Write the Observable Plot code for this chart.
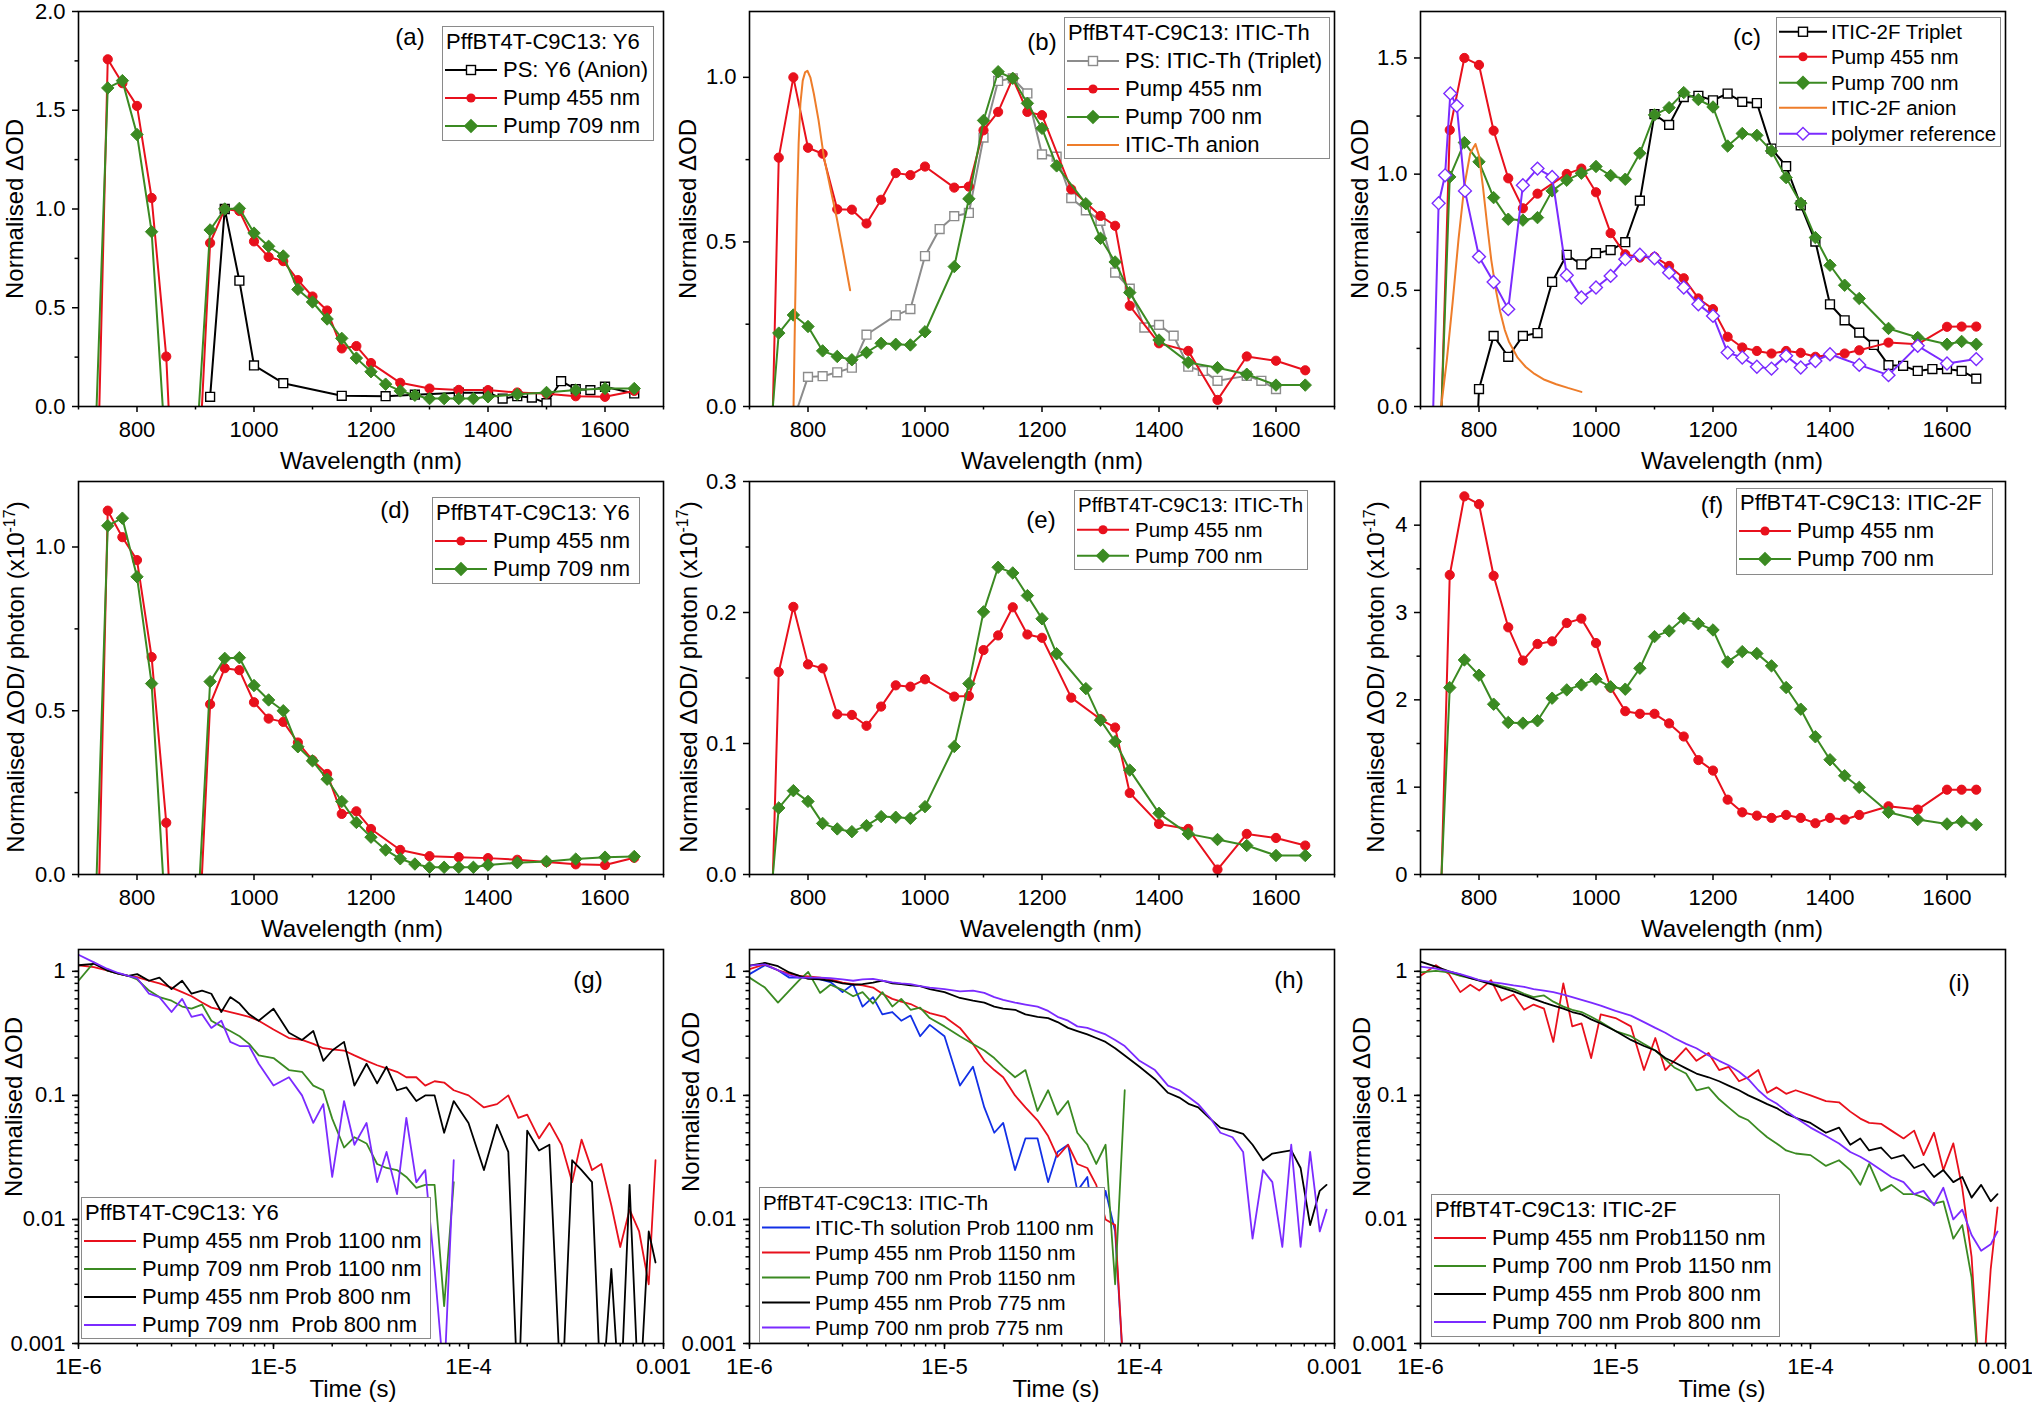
<!DOCTYPE html>
<html><head><meta charset="utf-8">
<script src="https://cdn.jsdelivr.net/npm/d3@7"></script>
<script src="https://cdn.jsdelivr.net/npm/@observablehq/plot@0.6"></script>
<style>
body{margin:0;background:#fff;}
#fig{position:relative;width:2032px;height:1408px;font-family:"Liberation Sans",Arial,Helvetica,sans-serif;color:#000;overflow:hidden;background:#fff;}
.lbl{position:absolute;white-space:nowrap;font-size:24px;transform:translate(-50%,-50%);line-height:1;}
.ylbl{position:absolute;white-space:nowrap;font-size:24px;transform:translate(-50%,-50%) rotate(-90deg);line-height:1;}
.leg{position:absolute;background:#fff;border:1.5px solid #8a8a8a;box-sizing:border-box;}
.leg .row{display:flex;align-items:center;white-space:pre;}
</style></head><body><div id="fig"></div>
<script>
const _ = null;
// ---------- spectra: wavelength grid (nm) ----------
const WL = [725,750,775,800,825,850,875,900, 925,950,975,1000,1025,1050,1075,1100, 1125,1150,1175,1200,1225,1250,1275,1300, 1325,1350,1375,1400,1425,1450,1475,1500, 1525,1550,1575,1600,1625,1650];
const WL_MAJOR = [800,1000,1200,1400,1600];
const WL_MINOR = [700,900,1100,1300,1500,1700];

// (a)
const A_PS  = [_,_,_,_,_,_,_,_, 0.049,1.0,0.637,0.208,_,0.118,_,_, _,0.054,_,_,0.052,_,0.06,_, _,0.07,_,0.07,0.04,0.052,0.045,0.017, 0.128,0.088,0.083,0.1,_,0.066];
const A_455 = [-1.3,1.758,1.637,1.522,1.056,0.253,-1.33,-0.65, 0.828,1.0,0.99,0.836,0.757,0.736,0.64,0.557, 0.486,0.294,0.306,0.22,_,0.12,_,0.091, _,0.084,_,0.083,_,0.071,_,0.065, _,0.052,_,0.049,_,0.079];
const A_709 = [-0.5,1.613,1.65,1.377,0.885,-0.28,-0.5,-0.28, 0.894,1.0,1.003,0.878,0.811,0.762,0.593,0.529, 0.443,0.345,0.245,0.176,0.113,0.079,0.057,0.04, 0.04,0.04,0.04,0.049,_,0.062,_,0.071, _,0.083,_,0.091,_,0.091];
// (b)
const B_PS  = [_,_,-0.042,0.09,0.092,0.104,0.118,0.218, _,0.277,0.296,0.457,0.539,0.578,0.588,0.817, 0.989,0.997,0.951,0.766,0.759,0.633,0.596,0.564, 0.407,0.358,0.24,0.248,0.215,0.121,0.108,0.078, _,0.093,0.078,0.053,_,_];
const B_455 = [-1.13,0.756,1.0,0.786,0.768,0.599,0.598,0.556, 0.628,0.709,0.703,0.729,_,0.665,0.668,0.839, 0.895,0.997,0.895,0.885,_,0.66,_,0.579, 0.549,0.306,_,0.192,_,0.169,_,0.02, _,0.152,_,0.139,_,0.11];
const B_700 = [-0.33,0.223,0.278,0.243,0.169,0.152,0.142,0.164, 0.192,0.189,0.187,0.227,_,0.425,0.631,0.869, 1.017,0.997,0.921,0.845,0.731,_,0.616,0.511, 0.439,0.346,_,0.202,_,0.134,_,0.118, _,0.098,_,0.065,_,0.065];
const B_ANION_WL = [775,778,781,784,787,791,795,799,804,810,818,827,838,849,860,872];
const B_ANION    = [-0.03,0.3,0.6,0.8,0.92,0.99,1.015,1.02,1.0,0.95,0.87,0.76,0.665,0.574,0.47,0.353];
// (c)
const C_TRIP = [_,_,-1.37,0.075,0.304,0.214,0.304,0.316, 0.536,0.653,0.612,0.66,0.673,0.707,0.886,1.258, 1.212,1.332,1.337,1.318,1.347,1.311,1.306,1.11, 1.034,0.866,0.71,0.44,0.371,0.318,0.265,0.178, 0.175,0.153,0.161,0.161,0.153,0.12];
const C_455  = [-0.935,1.19,1.5,1.47,1.187,0.982,0.853,0.916, _,1.001,1.024,0.922,0.746,0.655,0.641,0.644, 0.605,0.552,0.465,0.419,0.30,0.254,0.239,0.228, 0.239,0.231,0.214,0.222,0.228,0.242,_,0.275, _,0.268,_,0.343,0.344,0.344];
const C_700  = [-0.78,0.988,1.136,1.053,0.899,0.806,0.802,0.813, 0.928,0.974,1.004,1.033,0.994,0.978,1.09,1.255, 1.286,1.351,1.321,1.289,1.121,1.175,1.167,1.10, 0.985,0.875,0.727,0.608,0.522,0.465,_,0.336, _,0.297,_,0.268,0.28,0.268];
const C_ANION_WL = [733,745,755,765,775,785,794,800,807,814,821,829,836,844,851,866,880,895,912,932,952,975];
const C_ANION    = [-0.05,0.2,0.45,0.72,0.95,1.09,1.13,1.08,0.94,0.78,0.63,0.5,0.41,0.33,0.28,0.21,0.17,0.14,0.115,0.096,0.08,0.063];
const C_POLY_WL = [715,731,742,751,762,776,800,825,850,875,900,925,950,975,1000,1025,1050,1075,1100,1125,1150,1175,1200,1225,1250,1275,1300,1325,1350,1375,1400,1450,1500,1550,1600,1650];
const C_POLY    = [-0.65,0.875,0.995,1.347,1.294,0.928,0.645,0.536,0.419,0.952,1.024,0.988,0.565,0.469,0.512,0.562,0.634,0.653,0.638,0.576,0.512,0.44,0.39,0.232,0.211,0.171,0.163,0.218,0.168,0.196,0.225,0.179,0.135,0.261,0.185,0.204];
// (d)
const D_455 = [-0.81,1.111,1.03,0.96,0.664,0.158,-0.83,-0.41, 0.52,0.63,0.624,0.526,0.476,0.466,0.403,0.349, 0.307,0.185,0.193,0.139,_,0.075,_,0.056, _,0.053,_,0.05,_,0.045,_,0.038, _,0.031,_,0.029,_,0.051];
const D_709 = [-0.34,1.065,1.088,0.909,0.583,-0.17,-0.5,-0.25, 0.589,0.66,0.662,0.577,0.533,0.5,0.39,0.347, 0.291,0.223,0.159,0.114,0.075,0.048,0.032,0.022, 0.022,0.022,0.022,0.029,_,0.036,_,0.04, _,0.047,_,0.053,_,0.055];
// (e)
const E_455 = [-0.232,0.1546,0.2043,0.1604,0.1574,0.1223,0.1218,0.1135, 0.1282,0.1444,0.1434,0.149,_,0.1358,0.1363,0.1713, 0.1825,0.204,0.1832,0.1807,_,0.135,_,0.1185, 0.1122,0.0622,_,0.0386,_,0.0348,_,0.0038, _,0.031,_,0.0279,_,0.0221];
const E_700 = [-0.076,0.0508,0.064,0.0558,0.039,0.0348,0.0327,0.0373, 0.0442,0.0437,0.0429,0.0518,_,0.0977,0.1457,0.2005, 0.2345,0.2302,0.2129,0.1952,0.1685,_,0.1419,0.1178, 0.1015,0.0797,_,0.0467,_,0.031,_,0.0267, _,0.0221,_,0.0145,_,0.0145];
// (f)
const F_455 = [-2.7,3.43,4.33,4.24,3.42,2.83,2.45,2.64, 2.67,2.88,2.93,2.65,2.14,1.87,1.84,1.84, 1.73,1.58,1.31,1.19,0.857,0.712,0.674,0.648, 0.682,0.648,0.587,0.648,0.629,0.682,_,0.781, _,0.743,_,0.971,0.971,0.971];
const F_700 = [-1.68,2.14,2.457,2.282,1.95,1.741,1.733,1.76, 2.019,2.114,2.171,2.236,2.149,2.122,2.362,2.724, 2.789,2.933,2.872,2.8,2.434,2.552,2.53,2.389, 2.141,1.893,1.577,1.314,1.131,0.998,_,0.712, _,0.629,_,0.579,0.606,0.571];

// ---------- kinetics: time grid (s) ----------
const T = [
 1e-6,1.2e-6,1.4e-6,1.6e-6,1.8e-6,2e-6,2.3e-6,2.6e-6,3e-6,3.4e-6,3.8e-6,4.3e-6,4.8e-6,5.4e-6,6e-6,6.7e-6,7.5e-6,8.4e-6,
 1e-5,1.2e-5,1.4e-5,1.6e-5,1.8e-5,2e-5,2.3e-5,2.6e-5,3e-5,3.4e-5,3.8e-5,4.3e-5,4.8e-5,5.4e-5,6e-5,6.7e-5,7.5e-5,8.4e-5,
 1e-4,1.2e-4,1.4e-4,1.6e-4,1.8e-4,2e-4,2.3e-4,2.6e-4,3e-4,3.4e-4,3.8e-4,4.3e-4,4.8e-4,5.4e-4,6e-4,6.7e-4,7.5e-4,8.4e-4,
 9.1e-4];
const T_MAJOR = [1e-6,1e-5,1e-4,1e-3];
const T_LABELS = ["1E-6","1E-5","1E-4","0.001"];
const V_MAJOR = [0.001,0.01,0.1,1];
const V_LABELS = ["0.001","0.01","0.1","1"];
const NONE19 = [_,_,_,_,_,_,_,_,_,_,_,_,_,_,_,_,_,_,_];
// (g)
const G_455_1100 = [1.12,1.08,1.02,0.96,0.92,0.90,0.84,0.80,0.74,0.68,0.63,0.56,0.51,0.49,0.47,0.45,0.43,0.40,
 0.34,0.29,0.28,0.26,0.24,0.235,0.23,0.21,0.19,0.175,0.165,0.155,0.14,0.14,0.12,0.13,0.127,0.11,
 0.10,0.08,0.085,0.10,0.066,0.07,0.045,0.06,0.04,0.02,0.044,0.025,0.028,0.013,0.006,0.012,0.008,0.003, 0.03];
const G_709_1100 = [0.84,1.18,1.02,0.96,0.92,0.86,0.70,0.62,0.58,0.52,0.50,0.54,0.40,0.36,0.33,0.30,0.26,0.21,
 0.20,0.16,0.155,0.12,0.11,0.065,0.038,0.046,0.041,0.028,0.026,0.025,0.022,0.018,0.019,0.019,0.002,0.02, ...NONE19];
const G_455_800 = [1.12,1.15,1.02,0.96,0.92,0.95,0.84,0.89,0.72,0.84,0.66,0.70,0.66,0.47,0.62,0.55,0.45,0.40,
 0.50,0.32,0.28,0.33,0.19,0.23,0.27,0.12,0.18,0.125,0.17,0.11,0.116,0.09,0.10,0.10,0.05,0.09,
 0.06,0.025,0.058,0.035,0.0003,0.052,0.036,0.04,0.0003,0.03,0.025,0.02,0.0003,0.004,0.0003,0.019,0.0003,0.008, 0.0045];
const G_709_800 = [1.36,1.18,1.05,0.97,0.92,0.88,0.66,0.62,0.47,0.60,0.43,0.45,0.35,0.40,0.27,0.25,0.25,0.18,
 0.12,0.14,0.10,0.06,0.085,0.022,0.09,0.04,0.06,0.02,0.035,0.016,0.066,0.02,0.025,0.004,0.0005,0.03, ...NONE19];
// (h)
const H_SOL_1100 = [0.95,1.12,1.02,0.89,0.89,0.89,0.86,0.82,0.68,0.79,0.52,0.62,0.45,0.47,0.40,0.44,0.30,0.37,
 0.30,0.12,0.17,0.08,0.05,0.06,0.025,0.045,0.045,0.02,0.035,0.04,0.017,0.022,0.006,0.017,0.008,0.0004, ...NONE19];
const H_455_1150 = [1.04,1.14,1.02,0.96,0.92,0.91,0.89,0.86,0.81,0.79,0.77,0.74,0.66,0.60,0.57,0.545,0.50,0.46,
 0.43,0.35,0.26,0.19,0.16,0.14,0.10,0.08,0.063,0.047,0.032,0.04,0.028,0.026,0.019,0.01,0.009,0.0004, ...NONE19];
const H_700_1150 = [0.89,0.74,0.56,0.70,0.85,0.99,0.67,0.78,0.71,0.63,0.68,0.55,0.68,0.52,0.60,0.49,0.51,0.42,
 0.36,0.30,0.26,0.23,0.20,0.17,0.14,0.16,0.075,0.11,0.07,0.09,0.05,0.04,0.028,0.04,0.003,0.11, ...NONE19];
const H_455_775 = [1.11,1.17,1.10,0.98,0.92,0.87,0.86,0.84,0.80,0.78,0.79,0.81,0.84,0.80,0.79,0.77,0.76,0.72,
 0.68,0.61,0.58,0.56,0.52,0.50,0.49,0.45,0.43,0.42,0.39,0.35,0.33,0.31,0.29,0.27,0.24,0.21,
 0.17,0.135,0.105,0.096,0.085,0.08,0.065,0.055,0.052,0.049,0.04,0.03,0.034,0.035,0.036,0.026,0.009,0.017, 0.019];
const H_700_775 = [1.11,1.14,1.02,0.93,0.89,0.89,0.89,0.88,0.86,0.84,0.86,0.87,0.84,0.815,0.80,0.79,0.76,0.74,
 0.72,0.69,0.70,0.67,0.62,0.59,0.56,0.54,0.52,0.48,0.43,0.40,0.36,0.35,0.33,0.31,0.28,0.25,
 0.19,0.16,0.12,0.11,0.096,0.085,0.066,0.05,0.046,0.035,0.007,0.025,0.02,0.006,0.04,0.006,0.035,0.008, 0.012];
// (i)
const I_455_1150 = [0.92,1.12,0.95,0.68,0.78,0.70,0.85,0.58,0.65,0.49,0.54,0.50,0.27,0.80,0.36,0.38,0.20,0.45,
 0.42,0.36,0.16,0.29,0.16,0.19,0.24,0.19,0.22,0.16,0.17,0.13,0.14,0.16,0.105,0.116,0.103,0.11,
 0.10,0.09,0.088,0.074,0.065,0.06,0.059,0.052,0.045,0.052,0.033,0.05,0.025,0.041,0.018,0.005,0.0003,0.004, 0.0125];
const I_700_1150 = [0.98,1.01,0.98,0.92,0.88,0.85,0.80,0.76,0.72,0.66,0.62,0.64,0.57,0.52,0.49,0.47,0.43,0.39,
 0.33,0.30,0.26,0.23,0.195,0.168,0.15,0.11,0.116,0.093,0.08,0.068,0.063,0.053,0.046,0.041,0.036,0.034,
 0.033,0.027,0.03,0.025,0.019,0.028,0.017,0.019,0.016,0.016,0.015,0.0134,0.014,0.007,0.009,0.0034,0.0003,_, _];
const I_455_800 = [1.2,1.09,1.0,0.94,0.88,0.84,0.79,0.74,0.69,0.64,0.60,0.56,0.53,0.50,0.47,0.45,0.41,0.38,
 0.33,0.28,0.25,0.23,0.20,0.185,0.165,0.15,0.14,0.13,0.12,0.11,0.10,0.092,0.085,0.079,0.071,0.066,
 0.06,0.05,0.055,0.04,0.045,0.036,0.038,0.031,0.033,0.026,0.028,0.022,0.025,0.02,0.022,0.015,0.019,0.014, 0.016];
const I_700_800 = [1.09,1.05,1.0,0.95,0.90,0.85,0.82,0.80,0.77,0.75,0.72,0.70,0.68,0.65,0.62,0.59,0.56,0.53,
 0.48,0.44,0.39,0.35,0.32,0.29,0.26,0.24,0.21,0.19,0.175,0.155,0.135,0.11,0.095,0.086,0.075,0.066,
 0.055,0.047,0.041,0.035,0.032,0.029,0.025,0.022,0.02,0.016,0.017,0.013,0.018,0.010,0.012,0.0075,0.0056,0.0063, 0.008];

// ---------- styling ----------
const COL = {red:"#e8101c", green:"#3b8a22", black:"#000000", gray:"#8c8c8c", orange:"#ee7d2a", purple:"#7b2bff", blue:"#1230e6"};
const FONT = '"Liberation Sans", Arial, Helvetica, sans-serif';
const ML = 78, MR = 40, MT = 11, MB = 64, FW = 585;
const fig = document.getElementById("fig");
function place(el, left, top){ el.style.position="absolute"; el.style.left=left+"px"; el.style.top=top+"px"; fig.appendChild(el); }

function symOpts(s){
  switch(s.sym){
    case "circle":   return {symbol:"circle", r:4.6, fill:s.color, stroke:s.color, strokeWidth:1};
    case "diamond":  return {symbol:"diamond2", r:5.6, fill:s.color, stroke:s.color, strokeWidth:1};
    case "square":   return {symbol:"square", r:5.0, fill:"white", stroke:s.color, strokeWidth:1.4};
    case "odiamond": return {symbol:"diamond2", r:5.8, fill:"white", stroke:s.color, strokeWidth:1.4};
  }
}
function rowsOf(xs, ys){ return xs.map((x,i)=>({x, y: ys[i]})).filter(d => d.y != null); }

function basePlot(opts, marks){
  return Plot.plot({
    width: ML+FW+MR, height: MT+opts.frameH+MB,
    marginLeft: ML, marginRight: MR, marginTop: MT, marginBottom: MB,
    style: {fontFamily: FONT, fontSize: "22px", color: "#000", background: "transparent", overflow: "visible"},
    x: opts.x, y: opts.y, marks
  });
}

function specPanel(p){
  const marks = [
    Plot.axisX({ticks: WL_MAJOR, tickSize: 6, tickPadding: 9, tickFormat: d => String(d), label: null, fontSize: 22, strokeWidth: 1.5}),
    Plot.axisX({ticks: WL_MINOR, tickSize: 3.5, tickFormat: () => "", label: null, strokeWidth: 1.5}),
    Plot.axisY({ticks: p.yTicks, tickSize: 6, tickPadding: 7, tickFormat: d => p.yLabels[p.yTicks.indexOf(d)], label: null, fontSize: 22, strokeWidth: 1.5}),
    Plot.axisY({ticks: p.yMinor, tickSize: 3.5, tickFormat: () => "", label: null, strokeWidth: 1.5})
  ];
  for (const s of p.series){
    const rows = rowsOf(s.x, s.y);
    marks.push(Plot.line(rows, {x: "x", y: "y", stroke: s.color, strokeWidth: 2, clip: true}));
    if (s.sym) marks.push(Plot.dot(rows, {x: "x", y: "y", ...symOpts(s), clip: true}));
  }
  marks.push(Plot.frame({stroke: "#000", strokeWidth: 1.6}));
  const svg = basePlot({frameH: p.frameH, x: {domain: [700,1700]}, y: {domain: p.yDomain}}, marks);
  place(svg, p.left-ML, p.top-MT);
}

function timePanel(p){
  const marks = [
    Plot.axisX({ticks: T_MAJOR, tickSize: 6, tickPadding: 9, tickFormat: d => T_LABELS[T_MAJOR.indexOf(d)], label: null, fontSize: 22, strokeWidth: 1.5}),
    Plot.axisX({ticks: 40, tickSize: 3.5, tickFormat: () => "", label: null, strokeWidth: 1.5}),
    Plot.axisY({ticks: V_MAJOR, tickSize: 6, tickPadding: 7, tickFormat: d => V_LABELS[V_MAJOR.indexOf(d)], label: null, fontSize: 22, strokeWidth: 1.5}),
    Plot.axisY({ticks: 40, tickSize: 3.5, tickFormat: () => "", label: null, strokeWidth: 1.5})
  ];
  for (const s of p.series){
    marks.push(Plot.line(rowsOf(T, s.y), {x: "x", y: "y", stroke: s.color, strokeWidth: 1.8, clip: true}));
  }
  marks.push(Plot.frame({stroke: "#000", strokeWidth: 1.6}));
  const svg = basePlot({frameH: p.frameH, x: {type: "log", domain: [1e-6,1e-3]}, y: {type: "log", domain: [0.001,1.5]}}, marks);
  place(svg, p.left-ML, p.top-MT);
}

// ---------- text helpers ----------
function text(cls, html, x, y, fs){
  const d = document.createElement("div"); d.className = cls; d.innerHTML = html;
  d.style.left = x+"px"; d.style.top = y+"px"; if (fs) d.style.fontSize = fs+"px";
  fig.appendChild(d);
}
function swatch(it, h, w){
  const ns = "http://www.w3.org/2000/svg";
  const svg = document.createElementNS(ns, "svg");
  svg.setAttribute("width", w); svg.setAttribute("height", h);
  svg.style.flex = "none"; svg.style.marginLeft = "2px";
  const y = h/2, c = w/2;
  const ln = document.createElementNS(ns, "line");
  ln.setAttribute("x1", 0); ln.setAttribute("x2", w); ln.setAttribute("y1", y); ln.setAttribute("y2", y);
  ln.setAttribute("stroke", it.color); ln.setAttribute("stroke-width", 2.2);
  svg.appendChild(ln);
  let m = null;
  if (it.sym === "circle"){ m = document.createElementNS(ns, "circle"); m.setAttribute("cx", c); m.setAttribute("cy", y); m.setAttribute("r", 4.6); m.setAttribute("fill", it.color); }
  else if (it.sym === "diamond" || it.sym === "odiamond"){ m = document.createElementNS(ns, "polygon"); m.setAttribute("points", `${c},${y-6.3} ${c+6.3},${y} ${c},${y+6.3} ${c-6.3},${y}`); m.setAttribute("fill", it.sym === "diamond" ? it.color : "white"); m.setAttribute("stroke", it.color); m.setAttribute("stroke-width", 1.4); }
  else if (it.sym === "square"){ m = document.createElementNS(ns, "rect"); m.setAttribute("x", c-4.5); m.setAttribute("y", y-4.5); m.setAttribute("width", 9); m.setAttribute("height", 9); m.setAttribute("fill", "white"); m.setAttribute("stroke", it.color); m.setAttribute("stroke-width", 1.4); }
  if (m) svg.appendChild(m);
  return svg;
}
function legend(o){
  const box = document.createElement("div"); box.className = "leg";
  Object.assign(box.style, {left: o.left+"px", top: o.top+"px", width: o.w+"px", height: o.h+"px", fontSize: o.fs+"px", paddingTop: o.pt+"px"});
  if (o.title){ const r = document.createElement("div"); r.className = "row"; r.style.height = o.rowH+"px"; r.style.paddingLeft = "3px"; r.textContent = o.title; box.appendChild(r); }
  for (const it of o.items){
    const r = document.createElement("div"); r.className = "row"; r.style.height = o.rowH+"px";
    r.appendChild(swatch(it, o.rowH, o.sw || 52));
    const t = document.createElement("span"); t.textContent = it.label; t.style.marginLeft = (o.gap || 6)+"px"; r.appendChild(t);
    box.appendChild(r);
  }
  fig.appendChild(box);
}

// ---------- panels ----------
const COLS = [78, 749, 1420];
const ROW1 = {top: 11, frameH: 395}, ROW2 = {top: 481, frameH: 393}, ROW3 = {top: 949, frameH: 394};

specPanel({left: COLS[0], ...ROW1, yDomain: [0,2], yTicks: [0,0.5,1,1.5,2], yLabels: ["0.0","0.5","1.0","1.5","2.0"], yMinor: [0.25,0.75,1.25,1.75],
  series: [{x: WL, y: A_PS, color: COL.black, sym: "square"}, {x: WL, y: A_455, color: COL.red, sym: "circle"}, {x: WL, y: A_709, color: COL.green, sym: "diamond"}]});
specPanel({left: COLS[1], ...ROW1, yDomain: [0,1.2], yTicks: [0,0.5,1], yLabels: ["0.0","0.5","1.0"], yMinor: [0.25,0.75],
  series: [{x: WL, y: B_PS, color: COL.gray, sym: "square"}, {x: WL, y: B_455, color: COL.red, sym: "circle"}, {x: WL, y: B_700, color: COL.green, sym: "diamond"}, {x: B_ANION_WL, y: B_ANION, color: COL.orange}]});
specPanel({left: COLS[2], ...ROW1, yDomain: [0,1.7], yTicks: [0,0.5,1,1.5], yLabels: ["0.0","0.5","1.0","1.5"], yMinor: [0.25,0.75,1.25],
  series: [{x: WL, y: C_TRIP, color: COL.black, sym: "square"}, {x: WL, y: C_455, color: COL.red, sym: "circle"}, {x: WL, y: C_700, color: COL.green, sym: "diamond"}, {x: C_ANION_WL, y: C_ANION, color: COL.orange}, {x: C_POLY_WL, y: C_POLY, color: COL.purple, sym: "odiamond"}]});

specPanel({left: COLS[0], ...ROW2, yDomain: [0,1.2], yTicks: [0,0.5,1], yLabels: ["0.0","0.5","1.0"], yMinor: [0.25,0.75],
  series: [{x: WL, y: D_455, color: COL.red, sym: "circle"}, {x: WL, y: D_709, color: COL.green, sym: "diamond"}]});
specPanel({left: COLS[1], ...ROW2, yDomain: [0,0.3], yTicks: [0,0.1,0.2,0.3], yLabels: ["0.0","0.1","0.2","0.3"], yMinor: [0.05,0.15,0.25],
  series: [{x: WL, y: E_455, color: COL.red, sym: "circle"}, {x: WL, y: E_700, color: COL.green, sym: "diamond"}]});
specPanel({left: COLS[2], ...ROW2, yDomain: [0,4.5], yTicks: [0,1,2,3,4], yLabels: ["0","1","2","3","4"], yMinor: [0.5,1.5,2.5,3.5],
  series: [{x: WL, y: F_455, color: COL.red, sym: "circle"}, {x: WL, y: F_700, color: COL.green, sym: "diamond"}]});

timePanel({left: COLS[0], ...ROW3, series: [{y: G_455_1100, color: COL.red}, {y: G_709_1100, color: COL.green}, {y: G_455_800, color: COL.black}, {y: G_709_800, color: COL.purple}]});
timePanel({left: COLS[1], ...ROW3, series: [{y: H_SOL_1100, color: COL.blue}, {y: H_455_1150, color: COL.red}, {y: H_700_1150, color: COL.green}, {y: H_455_775, color: COL.black}, {y: H_700_775, color: COL.purple}]});
timePanel({left: COLS[2], ...ROW3, series: [{y: I_455_1150, color: COL.red}, {y: I_700_1150, color: COL.green}, {y: I_455_800, color: COL.black}, {y: I_700_800, color: COL.purple}]});

// ---------- axis titles ----------
const YL1 = "Normalised &Delta;OD";
const YL2 = "Normalised &Delta;OD/ photon (x10<sup style=\"font-size:16px;vertical-align:super;line-height:0\">-17</sup>)";
text("ylbl", YL1, 15, 208.5); text("ylbl", YL1, 688, 208.5); text("ylbl", YL1, 1360, 208.5);
text("ylbl", YL2, 16, 677); text("ylbl", YL2, 689, 677); text("ylbl", YL2, 1376, 677);
text("ylbl", YL1, 14, 1107); text("ylbl", YL1, 691, 1102); text("ylbl", YL1, 1362, 1107);
text("lbl", "Wavelength (nm)", 371, 461); text("lbl", "Wavelength (nm)", 1052, 461); text("lbl", "Wavelength (nm)", 1732, 461);
text("lbl", "Wavelength (nm)", 352, 929); text("lbl", "Wavelength (nm)", 1051, 929); text("lbl", "Wavelength (nm)", 1732, 929);
text("lbl", "Time (s)", 353, 1389); text("lbl", "Time (s)", 1056, 1389); text("lbl", "Time (s)", 1722, 1389);

// panel letters
[["(a)",410,37],["(b)",1042,42],["(c)",1747,37],["(d)",395,510],["(e)",1041,520],["(f)",1712,505],["(g)",588,980],["(h)",1289,980],["(i)",1959,983]]
  .forEach(([t,x,y]) => text("lbl", t, x, y));

// ---------- legends ----------
const L455 = {label: "Pump 455 nm", color: COL.red, sym: "circle"};
legend({left: 442, top: 26, w: 212, h: 115, rowH: 28, fs: 22, pt: 0.5, title: "PffBT4T-C9C13: Y6",
  items: [{label: "PS: Y6 (Anion)", color: COL.black, sym: "square"}, L455, {label: "Pump 709 nm", color: COL.green, sym: "diamond"}]});
legend({left: 1064, top: 17, w: 266, h: 142, rowH: 28, fs: 22, pt: 0.5, title: "PffBT4T-C9C13: ITIC-Th",
  items: [{label: "PS: ITIC-Th (Triplet)", color: COL.gray, sym: "square"}, L455, {label: "Pump 700 nm", color: COL.green, sym: "diamond"}, {label: "ITIC-Th anion", color: COL.orange}]});
legend({left: 1776, top: 17, w: 225, h: 130, rowH: 25.5, fs: 20.5, pt: 0.75, sw: 48, gap: 4, title: null,
  items: [{label: "ITIC-2F Triplet", color: COL.black, sym: "square"}, L455, {label: "Pump 700 nm", color: COL.green, sym: "diamond"}, {label: "ITIC-2F anion", color: COL.orange}, {label: "polymer reference", color: COL.purple, sym: "odiamond"}]});
legend({left: 432, top: 497, w: 208, h: 87, rowH: 28, fs: 22, pt: 0.5, title: "PffBT4T-C9C13: Y6",
  items: [L455, {label: "Pump 709 nm", color: COL.green, sym: "diamond"}]});
legend({left: 1074, top: 490, w: 234, h: 80, rowH: 25.5, fs: 20.5, pt: 0.75, title: "PffBT4T-C9C13: ITIC-Th",
  items: [L455, {label: "Pump 700 nm", color: COL.green, sym: "diamond"}]});
legend({left: 1736, top: 488, w: 257, h: 87, rowH: 28, fs: 22, pt: 0, title: "PffBT4T-C9C13: ITIC-2F",
  items: [L455, {label: "Pump 700 nm", color: COL.green, sym: "diamond"}]});
legend({left: 81, top: 1197, w: 350, h: 142, rowH: 28, fs: 22, pt: 0.5, title: "PffBT4T-C9C13: Y6",
  items: [{label: "Pump 455 nm Prob 1100 nm", color: COL.red}, {label: "Pump 709 nm Prob 1100 nm", color: COL.green}, {label: "Pump 455 nm Prob 800 nm", color: COL.black}, {label: "Pump 709 nm  Prob 800 nm", color: COL.purple}]});
legend({left: 759, top: 1187, w: 346, h: 156, rowH: 25, fs: 20.5, pt: 2, sw: 48, gap: 5, title: "PffBT4T-C9C13: ITIC-Th",
  items: [{label: "ITIC-Th solution Prob 1100 nm", color: COL.blue}, {label: "Pump 455 nm Prob 1150 nm", color: COL.red}, {label: "Pump 700 nm Prob 1150 nm", color: COL.green}, {label: "Pump 455 nm Prob 775 nm", color: COL.black}, {label: "Pump 700 nm prob 775 nm", color: COL.purple}]});
legend({left: 1431, top: 1194, w: 349, h: 143, rowH: 28, fs: 22, pt: 0.5, title: "PffBT4T-C9C13: ITIC-2F",
  items: [{label: "Pump 455 nm Prob1150 nm", color: COL.red}, {label: "Pump 700 nm Prob 1150 nm", color: COL.green}, {label: "Pump 455 nm Prob 800 nm", color: COL.black}, {label: "Pump 700 nm Prob 800 nm", color: COL.purple}]});
</script>
</body></html>
